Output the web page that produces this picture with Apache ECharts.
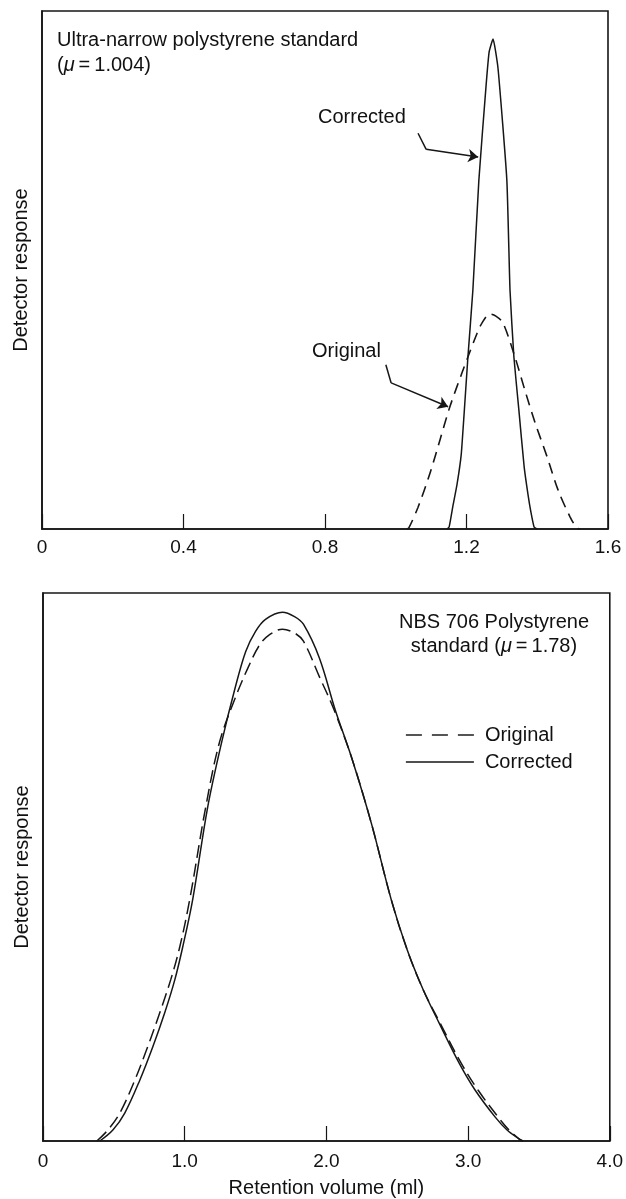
<!DOCTYPE html>
<html><head><meta charset="utf-8">
<script src="https://cdn.jsdelivr.net/npm/echarts@6/dist/echarts.min.js"></script>
<style>html,body{margin:0;padding:0;background:#fff}#c{width:626px;height:1199px}</style>
</head><body><div id="c"></div>
<script>
// ---- tick labels ----
const topTickLabels = ['0', '0.4', '0.8', '1.2', '1.6'];
const bottomTickLabels = ['0', '1.0', '2.0', '3.0', '4.0'];

// ---- top panel: ultra-narrow polystyrene standard ----
const topOriginalX = [1.032,1.037,1.063,1.097,1.125,1.153,1.187,1.204,1.230,1.244,1.266,1.283,1.303,1.337,1.365,1.394,1.428,1.459,1.493,1.512,1.521];
const topOriginalY = [0,0.002,0.042,0.108,0.172,0.236,0.301,0.332,0.378,0.398,0.415,0.411,0.398,0.332,0.268,0.205,0.139,0.075,0.023,0.002,0];
const topCorrectedX = [1.145,1.151,1.162,1.173,1.185,1.193,1.204,1.218,1.235,1.255,1.264,1.275,1.289,1.314,1.323,1.334,1.348,1.363,1.374,1.382,1.391,1.399];
const topCorrectedY = [0,0.004,0.046,0.085,0.143,0.220,0.332,0.461,0.674,0.853,0.921,0.946,0.890,0.674,0.461,0.332,0.230,0.120,0.066,0.033,0.004,0];

// ---- bottom panel: NBS 706 polystyrene standard ----
const bottomOriginalX = [0.380,0.458,0.542,0.648,0.739,0.824,0.901,0.965,1.035,1.148,1.246,1.359,1.444,1.528,1.599,1.690,1.775,1.838,1.951,2.049,2.176,2.317,2.458,2.570,2.683,2.803,2.951,3.070,3.211,3.289,3.359,3.387];
const bottomOriginalY = [0,0.020,0.051,0.111,0.172,0.234,0.294,0.354,0.440,0.609,0.728,0.810,0.862,0.905,0.924,0.934,0.927,0.912,0.847,0.790,0.701,0.580,0.440,0.349,0.276,0.215,0.142,0.093,0.044,0.020,0.004,0];
const bottomCorrectedX = [0.401,0.493,0.577,0.683,0.775,0.859,0.930,0.986,1.056,1.162,1.261,1.352,1.430,1.500,1.570,1.690,1.775,1.838,1.951,2.063,2.176,2.317,2.458,2.570,2.683,2.796,2.937,3.049,3.190,3.275,3.359,3.387];
const bottomCorrectedY = [0,0.020,0.051,0.111,0.172,0.234,0.294,0.354,0.440,0.609,0.728,0.823,0.893,0.930,0.952,0.965,0.957,0.943,0.881,0.786,0.701,0.580,0.440,0.349,0.276,0.215,0.142,0.093,0.044,0.020,0.004,0];

// ---- annotation arrows (data coordinates of the top panel) ----
const correctedArrowX = [1.063, 1.086, 1.233];
const correctedArrowY = [0.764, 0.733, 0.718];
const originalArrowX = [0.972, 0.987, 1.148];
const originalArrowY = [0.317, 0.282, 0.236];

const FONT = '"Liberation Sans", Arial, Helvetica, sans-serif';
const INK = '#161616';
const pairs = (xs, ys) => xs.map((x, i) => [x, ys[i]]);
const arrow = (xs, ys) => [
  [{coord: [xs[0], ys[0]], symbol: 'none'}, {coord: [xs[1], ys[1]], symbol: 'none'}],
  [{coord: [xs[1], ys[1]], symbol: 'none'}, {coord: [xs[2], ys[2]], symbol: 'arrow'}]
];
const markArrow = (xs, ys) => ({
  silent: true, animation: false,
  symbol: ['none', 'arrow'], symbolSize: 10,
  label: {show: false},
  lineStyle: {color: INK, width: 1.5, type: 'solid'},
  emphasis: {disabled: true},
  data: arrow(xs, ys)
});

const chart = echarts.init(document.getElementById('c'), null, {renderer: 'canvas'});

const xAxisBase = (gi, max, interval, labels, margin) => ({
  type: 'value', gridIndex: gi, min: 0, max: max, interval: interval,
  axisLine: {show: true, onZero: false, lineStyle: {color: INK, width: 1.6}},
  axisTick: {show: true, inside: true, length: 15, lineStyle: {color: INK, width: 1.2}},
  splitLine: {show: false},
  axisLabel: {
    show: true, margin: margin, color: '#111', fontSize: 19, fontFamily: FONT,
    formatter: v => labels[Math.round(v / interval)]
  }
});
const yAxisBase = (gi) => ({
  type: 'value', gridIndex: gi, min: 0, max: 1,
  name: 'Detector response', nameLocation: 'middle', nameGap: 11,
  nameTextStyle: {color: '#111', fontSize: 20, fontFamily: FONT},
  axisLine: {show: true, lineStyle: {color: INK, width: 1.6}},
  axisTick: {show: false}, axisLabel: {show: false}, splitLine: {show: false}
});

const option = {
  animation: false,
  backgroundColor: '#ffffff',
  grid: [
    {left: 42, top: 11, width: 566, height: 518, show: true, borderColor: INK, borderWidth: 1.6, backgroundColor: 'transparent'},
    {left: 43, top: 593, width: 568, height: 548, show: true, borderColor: INK, borderWidth: 1.6, backgroundColor: 'transparent'}
  ],
  xAxis: [
    xAxisBase(0, 1.6, 0.4, topTickLabels, 9),
    Object.assign(xAxisBase(1, 4, 1, bottomTickLabels, 11), {
      name: 'Retention volume (ml)', nameLocation: 'middle', nameGap: 37,
      nameTextStyle: {color: '#111', fontSize: 20, fontFamily: FONT}
    })
  ],
  yAxis: [yAxisBase(0), yAxisBase(1)],
  legend: {
    show: true, orient: 'vertical', left: 400, top: 720,
    itemWidth: 68, itemHeight: 20, itemGap: 7,
    data: [
      {name: 'Original', lineStyle: {color: '#555', width: 1.8, type: [16, 10]}},
      {name: 'Corrected', lineStyle: {color: INK, width: 1.6, type: 'solid'}}
    ],
    selectedMode: false,
    itemStyle: {color: 'rgba(0,0,0,0)', borderColor: 'rgba(0,0,0,0)', borderWidth: 0, opacity: 0},
    textStyle: {color: '#111', fontSize: 20, fontFamily: FONT, lineHeight: 20, padding: [0, 0, 0, 6]}
  },
  series: [
    {
      name: 'Corrected', type: 'line', xAxisIndex: 0, yAxisIndex: 0,
      data: pairs(topCorrectedX, topCorrectedY), showSymbol: false, symbol: 'none',
      smooth: 0.15, lineStyle: {color: INK, width: 1.5, type: 'solid'}, itemStyle: {color: INK},
      markLine: markArrow(correctedArrowX, correctedArrowY), z: 3
    },
    {
      name: 'Original', type: 'line', xAxisIndex: 0, yAxisIndex: 0,
      data: pairs(topOriginalX, topOriginalY), showSymbol: false, symbol: 'none',
      smooth: 0.3, lineStyle: {color: INK, width: 1.6, type: [11, 7]}, itemStyle: {color: INK},
      markLine: markArrow(originalArrowX, originalArrowY), z: 3
    },
    {
      name: 'Original', type: 'line', xAxisIndex: 1, yAxisIndex: 1,
      data: pairs(bottomOriginalX, bottomOriginalY), showSymbol: false, symbol: 'none',
      smooth: 0.35, lineStyle: {color: INK, width: 1.5, type: [13, 6]}, itemStyle: {color: INK}, z: 3
    },
    {
      name: 'Corrected', type: 'line', xAxisIndex: 1, yAxisIndex: 1,
      data: pairs(bottomCorrectedX, bottomCorrectedY), showSymbol: false, symbol: 'none',
      smooth: 0.35, lineStyle: {color: INK, width: 1.5, type: 'solid'}, itemStyle: {color: INK}, z: 3
    }
  ],
  graphic: [
    {type: 'text', x: 57, y: 40, silent: true,
     style: {text: 'Ultra-narrow polystyrene standard', fill: '#111', fontSize: 20, fontFamily: FONT, align: 'left', verticalAlign: 'middle'}},
    {type: 'text', x: 57, y: 65, silent: true,
     style: {text: '({i|μ}\u2009=\u20091.004)', fill: '#111', fontSize: 20, fontFamily: FONT, align: 'left', verticalAlign: 'middle',
             rich: {i: {fontStyle: 'italic', fontSize: 20, fontFamily: FONT, fill: '#111'}}}},
    {type: 'text', x: 318, y: 117, silent: true,
     style: {text: 'Corrected', fill: '#111', fontSize: 20, fontFamily: FONT, align: 'left', verticalAlign: 'middle'}},
    {type: 'text', x: 312, y: 351, silent: true,
     style: {text: 'Original', fill: '#111', fontSize: 20, fontFamily: FONT, align: 'left', verticalAlign: 'middle'}},
    {type: 'text', x: 494, y: 622, silent: true,
     style: {text: 'NBS 706 Polystyrene', fill: '#111', fontSize: 20, fontFamily: FONT, align: 'center', verticalAlign: 'middle'}},
    {type: 'text', x: 494, y: 646, silent: true,
     style: {text: 'standard ({i|μ}\u2009=\u20091.78)', fill: '#111', fontSize: 20, fontFamily: FONT, align: 'center', verticalAlign: 'middle',
             rich: {i: {fontStyle: 'italic', fontSize: 20, fontFamily: FONT, fill: '#111'}}}}
  ]
};
chart.setOption(option);
</script>
</body></html>
